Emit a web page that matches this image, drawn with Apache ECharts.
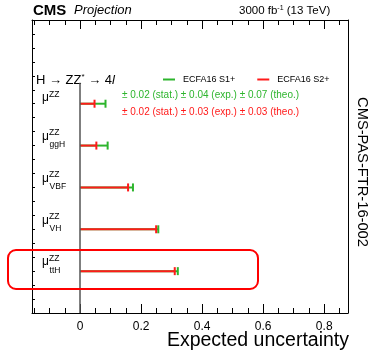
<!DOCTYPE html>
<html><head><meta charset="utf-8">
<script src="https://cdn.jsdelivr.net/npm/echarts@6/dist/echarts.min.js"></script>
<style>html,body{margin:0;padding:0;background:#fff}#c{width:370px;height:353px}</style>
</head><body><div id="c"></div>
<script>
// ---- data ----
const rowSubscripts = ['', 'ggH', 'VBF', 'VH', 'ttH'];
const rowPositions = [2, 3, 4, 5, 6];
const s1Values = [0.083, 0.090, 0.173, 0.256, 0.320]; // ECFA16 S1+
const s2Values = [0.047, 0.053, 0.157, 0.249, 0.310]; // ECFA16 S2+
const xMajorTicks = [0, 0.2, 0.4, 0.6, 0.8];
const xMinorTicks = [-0.15, -0.1, -0.05, 0, 0.05, 0.1, 0.15, 0.2, 0.25, 0.3, 0.35, 0.4, 0.45, 0.5, 0.55, 0.6, 0.65, 0.7, 0.75, 0.8, 0.85];
const s1Text = '± 0.02 (stat.) ± 0.04 (exp.) ± 0.07 (theo.)';
const s2Text = '± 0.02 (stat.) ± 0.03 (exp.) ± 0.03 (theo.)';

const GREEN = '#2db52d', RED = '#ff1a1a';
const FONT = 'Liberation Sans, Arial, sans-serif';
const XMIN = -0.158, XMAX = 0.878, YMIN = 0, YMAX = 7;

function barRenderer(color, capH) {
  return function (params, api) {
    const y = api.value(0), v = api.value(1);
    const p0 = api.coord([0, y]), p1 = api.coord([v, y]);
    return { type: 'group', children: [
      { type: 'line', shape: { x1: p0[0], y1: p0[1], x2: p1[0], y2: p1[1] }, style: { stroke: color, lineWidth: 2 } },
      { type: 'line', shape: { x1: p1[0], y1: p1[1] - capH, x2: p1[0], y2: p1[1] + capH }, style: { stroke: color, lineWidth: 2 } }
    ]};
  };
}

const chart = echarts.init(document.getElementById('c'), null, { renderer: 'canvas' });
const xBase = { type: 'value', min: XMIN, max: XMAX, splitLine: { show: false } };
chart.setOption({
  animation: false,
  textStyle: { fontFamily: FONT },
  grid: [
    { left: 32, right: 22, top: 20, bottom: 40 },
    { left: 32, right: 22, top: 11, height: 9 }   // helper strip whose bottom edge is the top frame
  ],
  legend: {
    left: 163, top: 75, padding: 0, itemGap: 22, itemWidth: 12, itemHeight: 2,
    icon: 'rect', textStyle: { fontSize: 9, color: '#000', fontFamily: FONT, padding: [0, 0, 0, 3] },
    data: ['ECFA16 S1+', 'ECFA16 S2+'], selectedMode: false
  },
  xAxis: [
    Object.assign({}, xBase, { gridIndex: 0, position: 'bottom',
      axisLine: { onZero: false, lineStyle: { color: '#000', width: 1 } },
      axisTick: { inside: true, length: 9, customValues: xMajorTicks, lineStyle: { color: '#000' } },
      axisLabel: { customValues: xMajorTicks, fontSize: 12, color: '#000', margin: 8, fontFamily: FONT } }),
    Object.assign({}, xBase, { gridIndex: 0, position: 'bottom', axisLine: { show: false, onZero: false },
      axisTick: { inside: true, length: 5, customValues: xMinorTicks, lineStyle: { color: '#000' } },
      axisLabel: { show: false } }),
    Object.assign({}, xBase, { gridIndex: 0, position: 'top',
      axisLine: { onZero: false, lineStyle: { color: '#000', width: 1 } },
      axisTick: { show: false }, axisLabel: { show: false } }),
    Object.assign({}, xBase, { gridIndex: 1, position: 'bottom', axisLine: { show: false, onZero: false },
      axisTick: { inside: false, length: 9, customValues: xMajorTicks, lineStyle: { color: '#000' } },
      axisLabel: { show: false } }),
    Object.assign({}, xBase, { gridIndex: 1, position: 'bottom', axisLine: { show: false, onZero: false },
      axisTick: { inside: false, length: 5, customValues: xMinorTicks, lineStyle: { color: '#000' } },
      axisLabel: { show: false } })
  ],
  yAxis: [
    { gridIndex: 0, type: 'value', min: YMIN, max: YMAX, interval: 1, inverse: true, position: 'left',
      splitLine: { show: false },
      axisLine: { onZero: false, lineStyle: { color: '#000', width: 1 } },
      axisTick: { inside: true, length: 3, lineStyle: { color: '#000' } },
      minorTick: { show: true, splitNumber: 3, length: 3, lineStyle: { color: '#000' } },
      axisLabel: { show: false } },
    { gridIndex: 0, type: 'value', min: YMIN, max: YMAX, inverse: true, position: 'right',
      splitLine: { show: false }, axisLine: { onZero: false, lineStyle: { color: '#000', width: 1 } },
      axisTick: { show: false }, axisLabel: { show: false } },
    { gridIndex: 1, type: 'value', min: 0, max: 1, show: false }
  ],
  series: [
    { type: 'line', name: 'zero', xAxisIndex: 0, yAxisIndex: 0, data: [], silent: true,
      markLine: { symbol: 'none', silent: true, label: { show: false },
        lineStyle: { color: '#555', width: 1.5, type: 'solid' },
        data: [[{ coord: [0, 1.5] }, { coord: [0, 7] }]] } },
    { type: 'custom', name: 'ECFA16 S1+', color: GREEN, xAxisIndex: 0, yAxisIndex: 0,
      encode: { x: 1, y: 0 }, renderItem: barRenderer(GREEN, 4),
      data: rowPositions.map((r, i) => [r, s1Values[i]]) },
    { type: 'custom', name: 'ECFA16 S2+', color: RED, xAxisIndex: 0, yAxisIndex: 0,
      encode: { x: 1, y: 0 }, renderItem: barRenderer(RED, 4),
      data: rowPositions.map((r, i) => [r, s2Values[i]]) },
    { type: 'custom', name: 'labels', xAxisIndex: 0, yAxisIndex: 0, silent: true,
      encode: { x: 1, y: 0 },
      renderItem: function (params, api) {
        const y = api.value(0);
        const p = api.coord([-0.125, y]);
        const sub = rowSubscripts[params.dataIndex];
        const dy = sub ? -3 : 0;
        const ch = [
          { type: 'text', x: p[0], y: p[1] + dy, style: { text: 'μ', fontSize: 12, fontFamily: FONT, fill: '#000', align: 'left', verticalAlign: 'bottom' } },
          { type: 'text', x: p[0] + 7, y: p[1] + dy - 5, style: { text: 'ZZ', fontSize: 8.5, fontFamily: FONT, fill: '#000', align: 'left', verticalAlign: 'bottom' } }
        ];
        if (sub) ch.push({ type: 'text', x: p[0] + 7.5, y: p[1] + 4, style: { text: sub, fontSize: 8.5, fontFamily: FONT, fill: '#000', align: 'left', verticalAlign: 'bottom' } });
        return { type: 'group', children: ch };
      },
      data: rowPositions.map((r) => [r, -0.125]) }
  ],
  graphic: [
    { type: 'text', left: 33, top: 3, style: { text: 'CMS', font: 'bold 15px ' + FONT, fill: '#000' } },
    { type: 'text', left: 74, top: 4, style: { text: 'Projection', font: 'italic 13px ' + FONT, fill: '#000' } },
    { type: 'text', left: 239, top: 5, style: {
        rich: { a: { fontSize: 11.5, fontFamily: FONT, fill: '#000' }, s: { fontSize: 7, fontFamily: FONT, fill: '#000', verticalAlign: 'top', padding: [0, 0, 5, 0] } },
        text: '{a|3000 fb}{s|-1}{a| (13 TeV)}' } },
    { type: 'text', left: 36, top: 73, style: {
        rich: { a: { fontSize: 13, fontFamily: FONT, fill: '#000' }, s: { fontSize: 8, fontFamily: FONT, fill: '#000', padding: [0, 0, 6, 0] }, i: { fontSize: 13, fontFamily: FONT, fontStyle: 'italic', fill: '#000' } },
        text: '{a|H → ZZ}{s|*}{a| → 4}{i|l}' } },
    { type: 'text', left: 122, top: 90, style: { text: s1Text, fontSize: 10, fontFamily: FONT, fill: GREEN } },
    { type: 'text', left: 122, top: 107, style: { text: s2Text, fontSize: 10, fontFamily: FONT, fill: RED } },
    { type: 'text', x: 362, y: 172, rotation: -Math.PI / 2, style: { text: 'CMS-PAS-FTR-16-002', fontSize: 14.7, fontFamily: FONT, fill: '#000', align: 'center', verticalAlign: 'middle' } },
    { type: 'text', right: 21, top: 331, style: { text: 'Expected uncertainty', fontSize: 19.5, fontFamily: FONT, fill: '#000' } },
    { type: 'rect', z: 100, shape: { x: 8, y: 250, width: 250, height: 39, r: 8 }, style: { stroke: '#ff0000', lineWidth: 2, fill: 'none' } }
  ]
});
</script></body></html>
